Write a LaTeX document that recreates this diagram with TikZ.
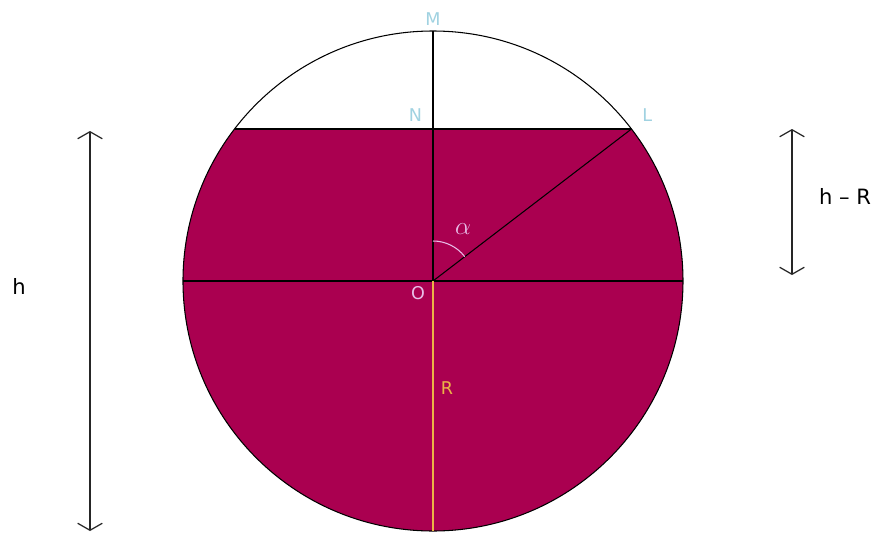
\documentclass[tikz,border=0pt]{standalone}
\usepackage{fontspec}
\setmainfont{DejaVu Sans}
\usepackage{tikz}
\usetikzlibrary{arrows.meta,positioning,calc}
\definecolor{liquid}{RGB}{170,0,80}
\definecolor{ptlabel}{RGB}{160,210,225}
\definecolor{olabel}{RGB}{232,190,232}
\definecolor{rline}{RGB}{235,180,70}

\begin{document}
\begin{tikzpicture}[
    x=0.02cm, y=0.02cm,
    thinline/.style={line width=0.6pt, black},
    dim/.style={{Straight Barb[length=4pt, width=14pt]}-{Straight Barb[length=4pt, width=14pt]}, line width=0.7pt, black!85},
    ptlab/.style={font=\fontsize{10}{12}\selectfont, text=ptlabel, inner sep=1pt},
    dimlab/.style={font=\fontsize{12}{14}\selectfont, inner sep=1pt}
]
\useasboundingbox (-433,-254) rectangle (444,281);
\fill[white] (-433,-254) rectangle (444,281);

\coordinate (O) at (0,0);
\coordinate (M) at (90:250);
\coordinate (S) at (-90:250);
\coordinate (W) at (180:250);
\coordinate (E) at (0:250);
\coordinate (L) at (37.45:250);
\coordinate (K) at (142.55:250);
\coordinate (N) at (0,152);

% liquid below the chord
\fill[liquid] (L) arc[start angle=37.45, end angle=-217.45, radius=250] -- cycle;
\draw[thinline] (O) circle[radius=250];

\draw[thinline] (K) -- (L);
\draw[thinline] (W) -- (E);
\draw[thinline] (M) -- (O);
\draw[thinline] (O) -- (L);
\draw[line width=0.8pt, rline] (O) -- (S);
\draw[line width=0.6pt, olabel] (0,40) arc[start angle=90, end angle=37.45, radius=40];

\node[ptlab, above=2pt of M] (mlab) {M};
\node[ptlab, above left=3pt and 5pt of N] (nlab) {N};
\node[ptlab, above right=3pt and 5pt of L] (llab) {L};
\node[ptlab, text=olabel] (olab) at (-15,-12) {O};
\node[ptlab, text=olabel, font=\fontsize{14}{16}\selectfont] (alab) at (30,52) {$\alpha$};
\node[ptlab, text=rline] (rlab) at (14,-107) {R};

% dimensions
\coordinate (h1) at (-343,150);
\coordinate (h2) at (-343,-250);
\coordinate (r1) at (359,152);
\coordinate (r2) at (359,6);
\draw[dim] (h1) -- (h2);
\draw[dim] (r1) -- (r2);
\node[dimlab] (hlab) at (-414,-5) {h};
\node[dimlab] (hrlab) at (412,85) {h -- R};
\end{tikzpicture}
\end{document}
